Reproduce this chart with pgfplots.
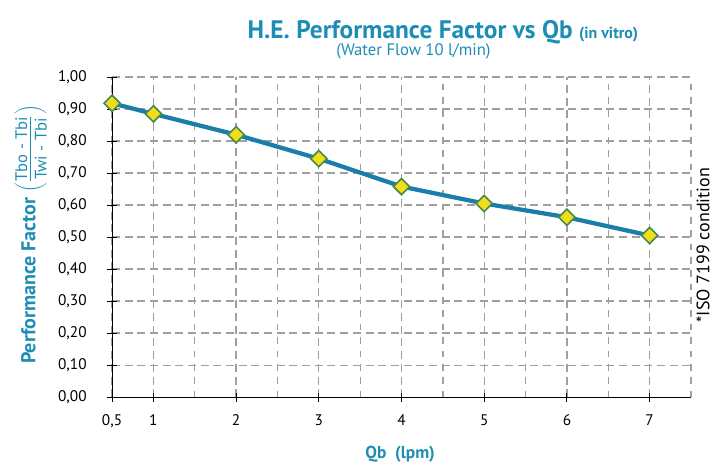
\documentclass[border=0pt]{standalone}
\usepackage{fontspec}
\setmainfont{PT Sans}
\usepackage{pgfplots}
\pgfplotsset{compat=1.18}
\definecolor{titleblue}{HTML}{1E8DB5}
\definecolor{lineblue}{HTML}{1B7DAA}
\definecolor{mkfill}{HTML}{F0DE1A}
\definecolor{mkedge}{HTML}{468A4E}
\begin{document}
\begin{tikzpicture}
\begin{axis}[
  at={(0,0)}, anchor=south west,
  scale only axis, width=434pt, height=240pt,
  xmin=0.5, xmax=7.5, ymin=0, ymax=1,
  axis lines=left, axis line style={-, black, line width=0.8pt},
  xtick={0.5,1,2,3,4,5,6,7},
  xticklabels={0{,}5,1,2,3,4,5,6,7},
  minor xtick={1.5,2.5,3.5,4.5,5.5,6.5,7.5},
  ytick={0,0.1,...,1.0},
  yticklabel style={/pgf/number format/fixed, /pgf/number format/fixed zerofill, /pgf/number format/precision=2, /pgf/number format/use comma},
  /pgf/number format/assume math mode=true,
  tick label style={font=\fontsize{11.5}{13}\selectfont, black},
  xticklabel style={yshift=-6pt},
  yticklabel style={xshift=-12pt},
  tick align=center, major tick length=7pt, minor tick length=0pt,
  tick style={black, line width=0.8pt},
  grid=both,
  major grid style={gray!75, dash pattern=on 6pt off 3.5pt, line width=1pt},
  minor grid style={gray!75, dash pattern=on 5pt off 5pt, line width=1pt},
  clip=false,
]
\addplot[lineblue, line width=3.2pt, mark=square*, mark size=4.3pt,
  mark options={rotate=45, fill=mkfill, draw=mkedge, line width=1.2pt}]
  coordinates {(0.5,0.918) (1,0.885) (2,0.820) (3,0.745) (4,0.658) (5,0.605) (6,0.562) (7,0.505)};
\end{axis}
\node[font=\fontsize{19}{22}\selectfont\bfseries, text=titleblue] at (248pt,274pt)
  {H.E. Performance Factor vs Qb \fontsize{12}{14}\selectfont(in vitro)};
\node[font=\fontsize{12.5}{14}\selectfont, text=titleblue] at (226pt,259pt) {(Water Flow 10 l/min)};
\node[font=\fontsize{13}{15}\selectfont\bfseries, text=titleblue] at (216pt,-43pt) {Qb \ (lpm)};
\node[rotate=90, font=\fontsize{15}{18}\selectfont\bfseries, text=titleblue, inner sep=0pt] at (-61pt,122pt)
  {Performance Factor $\left(\frac{\mbox{\fontsize{12.5}{14}\selectfont\mdseries Tbo - Tbi\rule[-2pt]{0pt}{2pt}}}{\mbox{\fontsize{12.5}{14}\selectfont\mdseries\rule{0pt}{11.5pt}Twi - Tbi}}\right)$};
\node[rotate=90, font=\fontsize{13.5}{15}\selectfont, black] at (443pt,114pt) {*ISO 7199 condition};
\path[use as bounding box] (-84pt,-54pt) rectangle (454.25pt,297.75pt);
\end{tikzpicture}
\end{document}
